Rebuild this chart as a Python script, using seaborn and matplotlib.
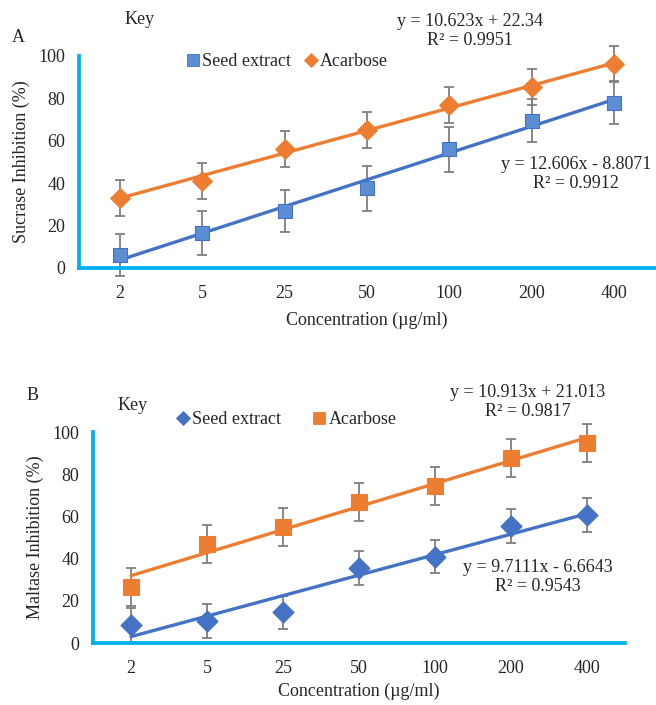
import matplotlib
matplotlib.use("Agg")
import matplotlib.pyplot as plt
from matplotlib.lines import Line2D
import pandas as pd
import numpy as np
import seaborn as sns

# categories (concentration, ug/ml)
conc = ["2", "5", "25", "50", "100", "200", "400"]

# Panel A - sucrase
sucrase_seed = [6, 16.5, 27, 37.5, 56, 69.5, 78]
sucrase_seed_err = [10, 10.5, 10, 10.5, 10.5, 10, 10]
sucrase_acarb = [33, 41, 56, 65, 77, 85.5, 96]
sucrase_acarb_err = [8.5, 8.5, 8.5, 8.5, 8.5, 8.5, 8.5]
sucrase_fit_seed = (12.606, -8.8071, 0.9912)
sucrase_fit_acarb = (10.623, 22.34, 0.9951)

# Panel B - maltase
maltase_seed = [8.5, 10.5, 14.5, 35.5, 41, 55.5, 60.5]
maltase_seed_err = [8, 8, 8, 8, 8, 8, 8]
maltase_acarb = [26.5, 47, 55, 67, 74.5, 87.5, 95]
maltase_acarb_err = [9, 9, 9, 9, 9, 9, 9]
maltase_fit_seed = (9.7111, -6.6643, 0.9543)
maltase_fit_acarb = (10.913, 21.013, 0.9817)

BLUE = "#4472C4"
BLUE_FILL = "#5B8ED3"
ORANGE = "#ED7D31"
AXIS = "#00B0F0"
FS = 13

sns.set_style("white")
plt.rcParams["font.family"] = ["Liberation Serif", "DejaVu Serif"]


def eq_text(fit):
    m, b, r2 = fit
    sign = "+" if b >= 0 else "-"
    return f"y = {m:g}x {sign} {abs(b):g}\nR² = {r2:g}"


def draw_panel(ax, seed, seed_err, acarb, acarb_err, fit_seed, fit_acarb,
               seed_marker, acarb_marker, seed_size, acarb_size, ylabel, xpad):
    pos = np.arange(1, len(conc) + 1)
    df = pd.DataFrame({
        "pos": np.concatenate([pos, pos]),
        "val": seed + acarb,
        "err": seed_err + acarb_err,
        "group": ["Seed extract"] * len(pos) + ["Acarbose"] * len(pos),
    })

    # linear trend lines from the stated equations
    for fit, col in [(fit_seed, BLUE), (fit_acarb, ORANGE)]:
        tl = pd.DataFrame({"pos": pos, "fit": fit[0] * pos + fit[1]})
        sns.lineplot(data=tl, x="pos", y="fit", ax=ax, color=col, lw=2.4,
                     zorder=3, legend=False)

    for grp in ["Seed extract", "Acarbose"]:
        d = df[df.group == grp]
        ax.errorbar(d["pos"], d["val"], yerr=d["err"], fmt="none",
                    ecolor="#7F7F7F", elinewidth=1.3, capsize=3.5,
                    capthick=1.3, zorder=2, clip_on=False)

    d = df[df.group == "Seed extract"]
    sns.scatterplot(data=d, x="pos", y="val", ax=ax, marker=seed_marker,
                    s=seed_size, color=BLUE_FILL if seed_marker == "s" else BLUE,
                    edgecolor=BLUE, linewidth=0.8, zorder=4, legend=False,
                    clip_on=False)
    d = df[df.group == "Acarbose"]
    sns.scatterplot(data=d, x="pos", y="val", ax=ax, marker=acarb_marker,
                    s=acarb_size, color=ORANGE, edgecolor=ORANGE,
                    linewidth=0.8, zorder=4, legend=False, clip_on=False)

    ax.set_xlim(0.5, len(conc) + 0.5)
    ax.set_ylim(0, 100)
    ax.set_yticks(range(0, 101, 20))
    ax.set_xticks(pos)
    ax.set_xticklabels(conc)
    ax.set_xticks(np.arange(0.5, len(conc) + 1, 1), minor=True)
    ax.tick_params(axis="x", which="major", length=0, pad=12, labelsize=FS)
    ax.tick_params(axis="x", which="minor", length=3, width=2.2, color=AXIS,
                   direction="out")
    ax.tick_params(axis="y", length=3, width=2.2, color=AXIS, direction="out",
                   labelsize=FS, pad=7)
    for s in ["top", "right"]:
        ax.spines[s].set_visible(False)
    for s in ["left", "bottom"]:
        ax.spines[s].set_color(AXIS)
        ax.spines[s].set_linewidth(2.7)
    ax.set_xlabel("Concentration (µg/ml)", fontsize=FS, labelpad=xpad)
    ax.set_ylabel(ylabel, fontsize=FS, labelpad=6)
    return ax


def key(ax, seed_marker, acarb_marker, anchor, colspace):
    ms = {"s": 8.6, "D": 7.2}
    handles = [
        Line2D([], [], ls="none", marker=seed_marker, ms=ms[seed_marker],
               mfc=BLUE_FILL if seed_marker == "s" else BLUE, mec=BLUE, mew=0.6),
        Line2D([], [], ls="none", marker=acarb_marker, ms=ms[acarb_marker],
               mfc=ORANGE, mec=ORANGE, mew=0.6),
    ]
    ax.legend(handles, ["Seed extract", "Acarbose"], loc="center left",
              bbox_to_anchor=anchor, ncol=2, frameon=False, fontsize=FS,
              handlelength=0.7, handletextpad=0.15, columnspacing=colspace,
              borderpad=0, borderaxespad=0)


fig = plt.figure(figsize=(6.56, 7.05), dpi=100)
axA = fig.add_axes([0.1204, 0.6199, 0.878, 0.3007])
axB = fig.add_axes([0.1418, 0.0879, 0.811, 0.2993])

draw_panel(axA, sucrase_seed, sucrase_seed_err, sucrase_acarb, sucrase_acarb_err,
           sucrase_fit_seed, sucrase_fit_acarb, "s", "D", 90, 100,
           "Sucrase Inhibition (%)", 7)
draw_panel(axB, maltase_seed, maltase_seed_err, maltase_acarb, maltase_acarb_err,
           maltase_fit_seed, maltase_fit_acarb, "D", "s", 115, 135,
           "Maltase Inhibition (%)", 4.5)

key(axA, "s", "D", (0.1875, 0.972), 0.75)
key(axB, "D", "s", (0.158, 1.057), 1.75)

# panel letters, key titles and trendline equations
fig.text(12 / 656, 1 - 37 / 705, "A", fontsize=FS, va="center")
fig.text(125 / 656, 1 - 20 / 705, "Key", fontsize=FS, va="center")
fig.text(470 / 656, 1 - 31 / 705, eq_text(sucrase_fit_acarb), fontsize=FS,
         ha="center", va="center", linespacing=1.15)
fig.text(576 / 656, 1 - 174 / 705, eq_text(sucrase_fit_seed), fontsize=FS,
         ha="center", va="center", linespacing=1.15)

fig.text(27 / 656, 1 - 395 / 705, "B", fontsize=FS, va="center")
fig.text(118 / 656, 1 - 405 / 705, "Key", fontsize=FS, va="center")
fig.text(528 / 656, 1 - 402 / 705, eq_text(maltase_fit_acarb), fontsize=FS,
         ha="center", va="center", linespacing=1.15)
fig.text(538 / 656, 1 - 577 / 705, eq_text(maltase_fit_seed), fontsize=FS,
         ha="center", va="center", linespacing=1.15)

fig.savefig("out.png", dpi=100)
